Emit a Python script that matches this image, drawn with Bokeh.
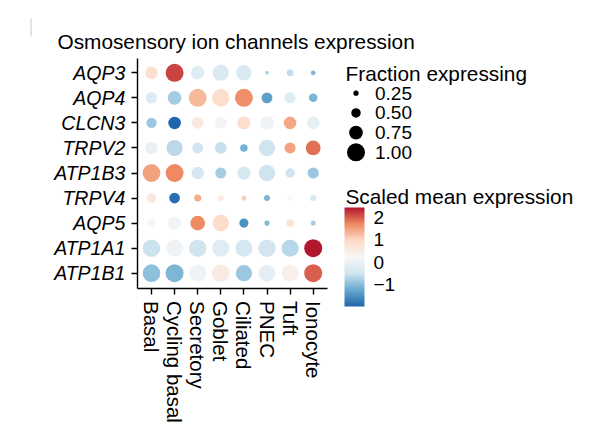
import numpy as np
from bokeh.plotting import figure
from bokeh.models import (ColumnDataSource, LinearColorMapper, LinearInterpolator, ColorBar,
                          FixedTicker, Range1d, LinearAxis)
from bokeh.transform import transform
from bokeh.embed import file_html
from bokeh.resources import INLINE
from bokeh.core.properties import value

# ---------------- data ----------------
cell_types = ["Basal", "Cycling basal", "Secretory", "Goblet", "Ciliated", "PNEC", "Tuft", "Ionocyte"]
genes = ["AQP3", "AQP4", "CLCN3", "TRPV2", "ATP1B3", "TRPV4", "AQP5", "ATP1A1", "ATP1B1"]

# scaled mean expression, one row per gene (order of `genes`), columns follow `cell_types`
scaled_expr = [
    [0.83, 2.15, -0.21, -0.31, -0.30, -0.69, -0.59, -1.06],   # AQP3
    [-0.23, -0.80, 1.27, 0.90, 1.65, -1.31, -0.27, -1.10],    # AQP4
    [-0.85, -1.96, 0.62, 0.10, 0.90, 0.08, 1.42, -0.10],      # CLCN3
    [-0.02, -0.64, -0.50, -0.56, -1.13, -0.51, 1.47, 1.85],   # TRPV2
    [1.47, 1.70, -0.40, -0.78, -0.42, -0.51, -0.50, -0.85],   # ATP1B3
    [0.60, -1.87, 1.38, 0.55, 1.05, -1.06, 0.20, -0.31],      # TRPV4
    [0.15, 0.10, 1.68, 0.93, -1.48, -1.06, 0.75, -0.79],      # AQP5
    [-0.53, 0.08, -0.50, -0.21, -0.42, -0.48, -0.67, 2.43],   # ATP1A1
    [-0.95, -1.06, 0.08, 0.55, -0.85, -0.12, 0.45, 1.96],     # ATP1B1
]
# fraction of cells expressing
frac_expr = [
    [0.68, 1.00, 0.73, 0.89, 0.85, 0.18, 0.34, 0.22],   # AQP3
    [0.62, 0.75, 1.00, 0.98, 1.00, 0.58, 0.60, 0.44],   # AQP4
    [0.55, 0.68, 0.63, 0.63, 0.70, 0.75, 0.68, 0.68],   # CLCN3
    [0.68, 0.89, 0.59, 0.63, 0.38, 0.91, 0.59, 0.81],   # TRPV2
    [0.99, 1.00, 0.67, 0.59, 0.70, 0.91, 0.50, 0.60],   # ATP1B3
    [0.50, 0.57, 0.36, 0.28, 0.24, 0.30, 0.22, 0.32],   # TRPV4
    [0.40, 0.73, 0.81, 0.91, 0.48, 0.24, 0.38, 0.24],   # AQP5
    [0.97, 0.95, 0.97, 0.95, 0.94, 0.97, 0.94, 1.00],   # ATP1A1
    [0.98, 1.00, 0.96, 0.98, 0.90, 0.92, 0.94, 1.00],   # ATP1B1
]
size_breaks = [0.25, 0.50, 0.75, 1.00]
size_labels = ["0.25", "0.50", "0.75", "1.00"]
color_ticks = [-1, 0, 1, 2]
title_text = "Osmosensory ion channels expression"
size_title = "Fraction expressing"
color_title = "Scaled mean expression"

# ---------------- layout / styles ----------------
W, H = 600, 430
FONT = "Liberation Sans"
X0, DX = 151.0, 23.1      # pixel position of first column, pixels per column
Y0, DY = 72.3, 25.05      # pixel position of first row, pixels per row
FR_L, FR_R, FR_T, FR_B = 136.8, 327.0, 58.0, 287.5   # panel box in pixels

def px2x(px):
    return (px - X0) / DX

def px2y(py):
    return (py - Y0) / DY

rdbu7 = ["#2166ac", "#67a9cf", "#d1e5f0", "#f7f7f7", "#fddbc7", "#ef8a62", "#b2182b"]

def interp_palette(stops, n=256):
    rgb = np.array([[int(c[i:i + 2], 16) for i in (1, 3, 5)] for c in stops], dtype=float)
    pos = np.linspace(0, 1, len(stops))
    out = []
    for tt in np.linspace(0, 1, n):
        r, g, b = (np.interp(tt, pos, rgb[:, k]) for k in range(3))
        out.append("#%02x%02x%02x" % (int(round(r)), int(round(g)), int(round(b))))
    return out

palette = interp_palette(rdbu7)
vals = np.array(scaled_expr)
LOW, HIGH = float(vals.min()), float(vals.max())
mapper = LinearColorMapper(palette=palette, low=LOW, high=HIGH)
size_map = LinearInterpolator(x=[0, 1], y=[1, 18])

xs, ys, ev, fv = [], [], [], []
for gi, g in enumerate(genes):
    for ci, c in enumerate(cell_types):
        xs.append(ci); ys.append(gi); ev.append(scaled_expr[gi][ci]); fv.append(frac_expr[gi][ci])
src = ColumnDataSource(dict(col=xs, row=ys, expr=ev, frac=fv))

p = figure(width=W, height=H,
           x_range=Range1d(px2x(0), px2x(W)), y_range=Range1d(px2y(H), px2y(0)),
           x_axis_type=None, y_axis_type=None,
           output_backend="svg", toolbar_location=None,
           min_border=0, min_border_left=0, min_border_right=0, min_border_top=0, min_border_bottom=0)
p.outline_line_color = None
p.xgrid.visible = False
p.ygrid.visible = False
p.background_fill_color = "white"
p.border_fill_color = "white"
p.extra_x_ranges = {"px": Range1d(0, W)}
p.extra_y_ranges = {"px": Range1d(H, 0),
                    # colour-bar value scale: LOW at y=306 px, HIGH at y=207 px
                    "cb": Range1d(LOW - (H - 306) / 99 * (HIGH - LOW), HIGH + 207 / 99 * (HIGH - LOW))}

# dots
p.scatter(x="col", y="row", source=src, marker="circle",
          size=transform("frac", size_map),
          fill_color=transform("expr", mapper), line_color=None)

# axes
def style_axis(ax, size):
    ax.axis_line_color = "black"
    ax.axis_line_width = 1.4
    ax.major_tick_line_color = "black"
    ax.major_tick_line_width = 1.4
    ax.major_tick_out = 6
    ax.major_tick_in = 0
    ax.minor_tick_line_color = None
    ax.major_label_text_font = FONT
    ax.major_label_text_font_size = size
    ax.major_label_text_color = "black"

yax = LinearAxis(fixed_location=px2x(FR_L), bounds=(px2y(FR_T), px2y(FR_B)),
                 ticker=FixedTicker(ticks=list(range(len(genes)))),
                 major_label_overrides={i: g for i, g in enumerate(genes)})
style_axis(yax, "19.5px")
yax.major_label_text_font_style = "italic"
yax.major_label_standoff = 6
p.add_layout(yax, "left")

xax = LinearAxis(fixed_location=px2y(FR_B), bounds=(px2x(FR_L), px2x(FR_R)),
                 ticker=FixedTicker(ticks=list(range(len(cell_types)))),
                 major_label_overrides={i: c for i, c in enumerate(cell_types)},
                 major_label_orientation="vertical")
style_axis(xax, "20.5px")
xax.major_label_standoff = 7
p.add_layout(xax, "below")

# title
p.text(x=[57], y=[40.7], text=[title_text], x_range_name="px", y_range_name="px",
       text_font=value(FONT), text_font_size="20.8px", text_color="black", text_baseline="alphabetic")
# faint mark at top-left
p.segment(x0=[30.5], y0=[18], x1=[30.5], y1=[36], x_range_name="px", y_range_name="px",
          line_color="#c8c8c8", line_width=1)

# size legend
p.text(x=[345], y=[73.3], text=[size_title], x_range_name="px", y_range_name="px",
       text_font=value(FONT), text_font_size="20.8px", text_color="black", text_baseline="alphabetic")
key_y = [92.7 + 19.7 * i for i in range(len(size_breaks))]
ksrc = ColumnDataSource(dict(x=[355.5] * len(size_breaks), y=key_y, frac=size_breaks,
                             lab=size_labels, lx=[374.5] * len(size_breaks)))
p.scatter(x="x", y="y", source=ksrc, marker="circle", size=transform("frac", size_map),
          fill_color="black", line_color=None, x_range_name="px", y_range_name="px")
p.text(x="lx", y="y", text="lab", source=ksrc, x_range_name="px", y_range_name="px",
       text_font=value(FONT), text_font_size="19px", text_color="black", text_baseline="middle")

# colour legend
p.text(x=[345], y=[196], text=[color_title], x_range_name="px", y_range_name="px",
       text_font=value(FONT), text_font_size="20.8px", text_color="black", text_baseline="alphabetic")
cb = ColorBar(color_mapper=mapper, location=(344, H - 306), width=20, height=99,
              ticker=FixedTicker(ticks=color_ticks),
              major_label_overrides={-1: "\u22121", 0: "0", 1: "1", 2: "2"},
              major_label_text_font=FONT, major_label_text_font_size="19px",
              major_label_text_color="black",
              major_tick_line_color=None, minor_tick_line_color=None, bar_line_color=None,
              label_standoff=9, padding=0, margin=0,
              background_fill_alpha=0, border_line_color=None)
p.add_layout(cb, "center")
# white tick marks on both edges of the colour bar
tsrc = ColumnDataSource(dict(v=color_ticks, l0=[344] * 4, l1=[348] * 4, r0=[360] * 4, r1=[364] * 4))
p.segment(x0="l0", x1="l1", y0="v", y1="v", source=tsrc, x_range_name="px", y_range_name="cb",
          line_color="white", line_width=1)
p.segment(x0="r0", x1="r1", y0="v", y1="v", source=tsrc, x_range_name="px", y_range_name="cb",
          line_color="white", line_width=1)

open("out.html", "w").write(file_html(p, INLINE))
